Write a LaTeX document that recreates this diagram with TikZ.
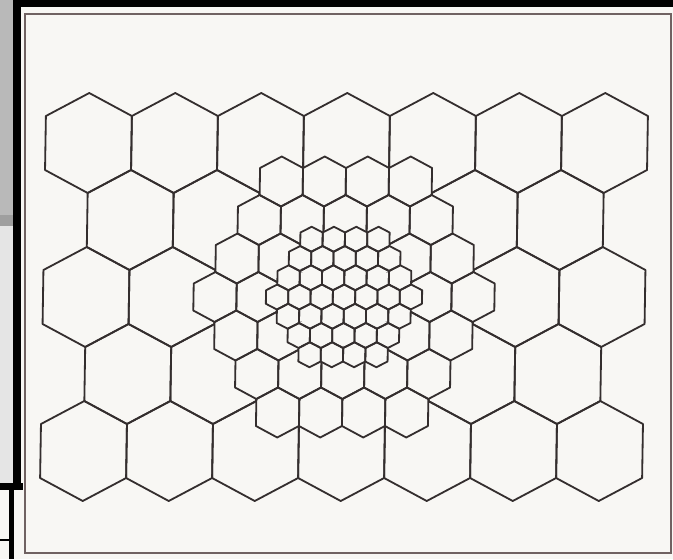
\documentclass[tikz,border=0pt]{standalone}
\definecolor{paper}{RGB}{248,247,244}
\definecolor{ink}{RGB}{52,46,46}
\definecolor{framecol}{RGB}{112,98,98}

% one hexagonal cell: centre (#1,#2), horizontal factor #3, vertical factor #4
\newcommand{\cellhex}[4]{({#1},{#2}) ++(0,{-50*#4}) -- ++({43*#3},{23*#4}) -- ++(0,{54*#4}) -- ++({-43*#3},{23*#4}) -- ++({-43*#3},{-23*#4}) -- ++(0,{-54*#4}) -- cycle}

\begin{document}
\begin{tikzpicture}[
    x=0.03cm, y=-0.03cm,
    cell/.style={draw=ink, line width=1.55pt, line join=round},
    bar/.style={fill=black}
]
\useasboundingbox (0,0) rectangle (673,559);

% scanned page
\fill[paper] (0,0) rectangle (673,559);
\fill[gray!55] (0,0) rectangle (13,215);
\fill[gray!75] (0,215) rectangle (13,226);
\fill[gray!20] (0,226) rectangle (13,483);
\fill[bar] (13,0) rectangle (21,487);
\fill[bar] (13,0) rectangle (673,7);
\fill[bar] (0,483) rectangle (23,490);
\fill[bar] (9,490) rectangle (14,559);
\fill[bar] (0,539) rectangle (9,541);
\draw[framecol, line width=1.2pt] (25,14) rectangle (671,553);

\begin{scope}[shift={(344,297)}, xslant=0.016]
% large cells, outside the medium cluster
\begin{scope}[even odd rule]
\clip (-400,-400) rectangle (400,400)
    foreach \j/\kmin/\kmax in {-3/0/3, -2/-1/3, -1/-2/3, 0/-3/3, 1/-3/2, 2/-3/1, 3/-3/0} {
        foreach \k in {\kmin,...,\kmax} { \cellhex{(\k+0.5*\j)*43}{\j*38.5}{0.5}{0.5} }
    };
\foreach \j in {-2,0,2}
    \foreach \k in {-3,...,3}
        \draw[cell] \cellhex{\k*86}{\j*77}{1}{1};
\foreach \j in {-1,1}
    \foreach \k in {-3,...,2}
        \draw[cell] \cellhex{(\k+0.5)*86}{\j*77}{1}{1};
\end{scope}

% medium cells, outside the small cluster
\begin{scope}[even odd rule]
\clip (-400,-400) rectangle (400,400)
    foreach \j/\kmin/\kmax in {-3/0/3, -2/-1/3, -1/-2/3, 0/-3/3, 1/-3/2, 2/-3/1, 3/-3/0} {
        foreach \k in {\kmin,...,\kmax} { \cellhex{(\k+0.5*\j)*22.3}{\j*19.25}{0.2593}{0.25} }
    };
\foreach \j/\kmin/\kmax in {-3/0/3, -2/-1/3, -1/-2/3, 0/-3/3, 1/-3/2, 2/-3/1, 3/-3/0}
    \foreach \k in {\kmin,...,\kmax}
        \draw[cell] \cellhex{(\k+0.5*\j)*43}{\j*38.5}{0.5}{0.5};
\end{scope}

% small cells
\foreach \j/\kmin/\kmax in {-3/0/3, -2/-1/3, -1/-2/3, 0/-3/3, 1/-3/2, 2/-3/1, 3/-3/0}
    \foreach \k in {\kmin,...,\kmax}
        \draw[cell] \cellhex{(\k+0.5*\j)*22.3}{\j*19.25}{0.2593}{0.25};
\end{scope}
\end{tikzpicture}
\end{document}
